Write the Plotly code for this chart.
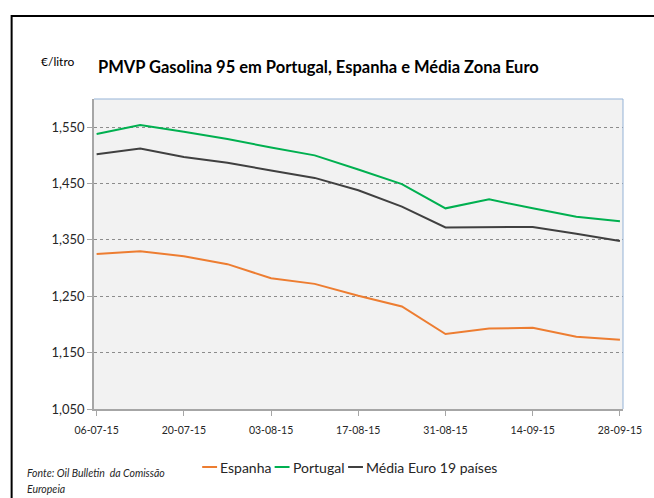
import plotly.graph_objects as go

dates = ["06-07-15", "13-07-15", "20-07-15", "27-07-15", "03-08-15", "10-08-15", "17-08-15",
         "24-08-15", "31-08-15", "07-09-15", "14-09-15", "21-09-15", "28-09-15"]
espanha = [1.325, 1.330, 1.321, 1.307, 1.282, 1.272, 1.251, 1.232, 1.183, 1.193, 1.194, 1.178, 1.173]
portugal = [1.538, 1.554, 1.542, 1.529, 1.514, 1.500, 1.475, 1.449, 1.406, 1.422, 1.406, 1.391, 1.383]
media = [1.502, 1.512, 1.497, 1.487, 1.473, 1.460, 1.438, 1.409, 1.372, 1.373, 1.373, 1.361, 1.348]
series_names = ["Espanha", "Portugal", "Média Euro 19 países"]
series_colors = ["#ED7D31", "#00B050", "#404040"]
y_ticks = [1.05, 1.15, 1.25, 1.35, 1.45, 1.55]
x_ticks = dates[::2]

W, H = 654, 498
L, R, T, B = 94, 27, 99, 89
pw, ph = W - L - R, H - T - B

def px(x):
    return (x - L) / pw

def py(y):
    return (H - B - y) / ph

FONT = "Lato"

fig = go.Figure()
for name, vals, col in zip(series_names, [espanha, portugal, media], series_colors):
    fig.add_trace(go.Scatter(x=dates, y=vals, name=name, mode="lines",
                             line=dict(color=col, width=2), showlegend=False))

# manual compact legend (short line + text), like the reference
legend_line_x = [203, 276, 350]
legend_y = 467
shapes = [
    dict(type="rect", xref="paper", yref="paper",
         x0=px(11), x1=px(720), y0=py(540), y1=py(16),
         line=dict(color="black", width=2), fillcolor="rgba(0,0,0,0)", layer="below"),
    dict(type="line", xref="paper", yref="paper", x0=0, x1=1, y0=1, y1=1,
         line=dict(color="#95B3D7", width=1)),
    dict(type="line", xref="paper", yref="paper", x0=1, x1=1, y0=0, y1=1,
         line=dict(color="#95B3D7", width=1)),
]
annotations = [
    dict(text="PMVP Gasolina 95 em Portugal, Espanha e Média Zona Euro",
         xref="paper", yref="paper", x=px(96), y=py(67), xanchor="left", yanchor="middle",
         showarrow=False, font=dict(size=16.5, family=FONT, color="#000000", weight="bold")),
    dict(text="€/litro", xref="paper", yref="paper", x=px(39), y=py(62),
         xanchor="left", yanchor="middle", showarrow=False,
         font=dict(size=12, family=FONT, color="#000000")),
    dict(text="<i>Fonte: Oil Bulletin  da Comissão</i>", xref="paper", yref="paper",
         x=px(24), y=py(473), xanchor="left", yanchor="middle", align="left",
         showarrow=False, font=dict(size=10.5, family=FONT, color="#262626")),
    dict(text="<i>Europeia</i>", xref="paper", yref="paper",
         x=px(24), y=py(489), xanchor="left", yanchor="middle", align="left",
         showarrow=False, font=dict(size=10.5, family=FONT, color="#262626")),
]
for lx, name, col in zip(legend_line_x, series_names, series_colors):
    shapes.append(dict(type="line", xref="paper", yref="paper",
                       x0=px(lx), x1=px(lx + 15), y0=py(legend_y), y1=py(legend_y),
                       line=dict(color=col, width=2)))
    annotations.append(dict(text=name, xref="paper", yref="paper", x=px(lx + 16), y=py(legend_y),
                            xanchor="left", yanchor="middle", showarrow=False,
                            font=dict(size=14, family=FONT, color="#262626")))

fig.update_layout(
    width=W, height=H,
    margin=dict(l=L, r=R, t=T, b=B),
    paper_bgcolor="white",
    plot_bgcolor="#F2F2F2",
    separators=",.",
    font=dict(family=FONT, color="#262626"),
    showlegend=False,
    xaxis=dict(type="category", range=[-0.06, 12.07],
               tickmode="array", tickvals=x_ticks, ticktext=x_ticks,
               tickfont=dict(size=10.5, color="#262626"),
               ticklabelstandoff=6,
               showgrid=False, ticks="outside", ticklen=5, tickcolor="#A6A6A6",
               showline=True, linecolor="#A6A6A6", linewidth=1.5, mirror=False,
               zeroline=False),
    yaxis=dict(range=[1.05, 1.60], tickmode="array", tickvals=y_ticks,
               tickformat=".3f", tickfont=dict(size=13, color="#262626"),
               showgrid=True, gridcolor="#8C8C8C", griddash="dot", gridwidth=1,
               ticks="outside", ticklen=5, tickcolor="#A6A6A6",
               showline=True, linecolor="#A6A6A6", linewidth=1.5,
               zeroline=False),
    shapes=shapes,
    annotations=annotations,
)

fig.write_html("out.html", config={"displayModeBar": False})

# remove the browser's default body margin so the figure sits at the page origin
with open("out.html", encoding="utf-8") as f:
    html = f.read()
html = html.replace("<body>", '<body style="margin:0;">', 1)
with open("out.html", "w", encoding="utf-8") as f:
    f.write(html)
